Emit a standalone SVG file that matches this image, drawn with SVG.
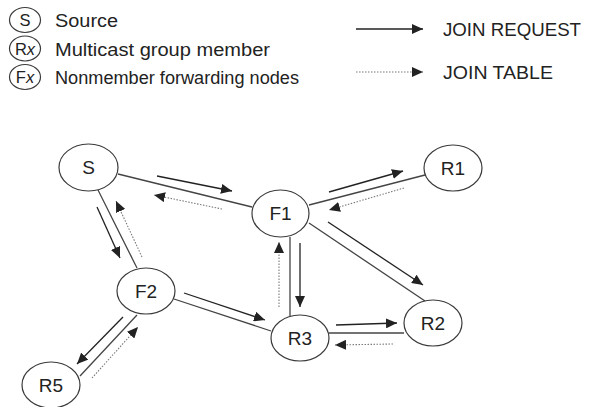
<svg xmlns="http://www.w3.org/2000/svg" width="591" height="407" viewBox="0 0 591 407">
<style>
.bg{fill:#fff}
.node ellipse{fill:#fff;stroke:#3a3a3a;stroke-width:1.2}
.lbl{font-family:"Liberation Sans",Arial,sans-serif;font-size:19px;fill:#222;text-anchor:middle}
.sym{font-family:"Liberation Sans",Arial,sans-serif;font-size:16.5px;fill:#222;text-anchor:middle}
.leg{font-family:"Liberation Sans",Arial,sans-serif;font-size:17.5px;fill:#222}
.edge{stroke:#444;stroke-width:1.3;fill:none}
.req{stroke:#222;stroke-width:1.3;fill:none;marker-end:url(#ah)}
.tbl{stroke:#7a7a7a;stroke-width:1.1;stroke-dasharray:1.5 1.5;fill:none;marker-end:url(#ah)}
</style>
<defs>
<marker id="ah" markerUnits="userSpaceOnUse" markerWidth="12" markerHeight="10" refX="11" refY="5" orient="auto">
<path d="M0,0 L11,5 L0,10 z" fill="#222"/>
</marker>
</defs>
<rect class="bg" x="0" y="0" width="591" height="407"/>

<g id="legend">
<g id="legend-source" class="node">
<ellipse cx="25" cy="20" rx="15.5" ry="12.5"/>
<text class="sym" x="25" y="26">S</text>
<text class="leg" x="55" y="27" textLength="63" lengthAdjust="spacingAndGlyphs">Source</text>
</g>
<g id="legend-member" class="node">
<ellipse cx="25" cy="48.5" rx="15.5" ry="12.5"/>
<text class="sym" x="25" y="54.5">R<tspan font-style="italic">x</tspan></text>
<text class="leg" x="55" y="55.5" textLength="215" lengthAdjust="spacingAndGlyphs">Multicast group member</text>
</g>
<g id="legend-forwarder" class="node">
<ellipse cx="25" cy="77" rx="15.5" ry="12.5"/>
<text class="sym" x="25" y="83">F<tspan font-style="italic">x</tspan></text>
<text class="leg" x="55" y="84" textLength="244" lengthAdjust="spacingAndGlyphs">Nonmember forwarding nodes</text>
</g>
<g id="legend-join-request">
<line class="req" x1="356" y1="29" x2="423" y2="29"/>
<text class="leg" x="443" y="35.5" textLength="138" lengthAdjust="spacingAndGlyphs">JOIN REQUEST</text>
</g>
<g id="legend-join-table">
<line class="tbl" x1="356" y1="72" x2="423" y2="72"/>
<text class="leg" x="443" y="78.5" textLength="110" lengthAdjust="spacingAndGlyphs">JOIN TABLE</text>
</g>
</g>

<g id="connectors">
<line class="edge" x1="118" y1="174" x2="252" y2="207"/>
<line class="edge" x1="98" y1="190" x2="137" y2="268"/>
<line class="edge" x1="309" y1="205" x2="425" y2="175"/>
<line class="edge" x1="309" y1="223" x2="425" y2="301"/>
<line class="edge" x1="290" y1="237" x2="290" y2="316"/>
<line class="edge" x1="174" y1="299" x2="271" y2="331"/>
<line class="edge" x1="329" y1="333" x2="404" y2="333"/>
<line class="edge" x1="137" y1="315" x2="80" y2="376"/>

<line class="req" x1="157" y1="176" x2="232" y2="191"/>
<line class="tbl" x1="222" y1="209" x2="154" y2="195"/>
<line class="req" x1="97" y1="207" x2="120" y2="258"/>
<line class="tbl" x1="142" y1="257" x2="116" y2="201"/>
<line class="req" x1="329" y1="192" x2="403" y2="171"/>
<line class="tbl" x1="404" y1="188" x2="329" y2="210"/>
<line class="req" x1="328" y1="222" x2="423" y2="285"/>
<line class="req" x1="300" y1="243" x2="300" y2="307"/>
<line class="tbl" x1="279" y1="307" x2="279" y2="242"/>
<line class="req" x1="184" y1="293" x2="265" y2="320"/>
<line class="req" x1="336" y1="325" x2="397" y2="323"/>
<line class="tbl" x1="393" y1="344" x2="335" y2="345"/>
<line class="req" x1="123" y1="317" x2="77" y2="364"/>
<line class="tbl" x1="92" y1="378" x2="138" y2="327"/>
</g>

<g id="node-S" class="node"><ellipse cx="88.5" cy="167.5" rx="29.5" ry="23.5"/><text class="lbl" x="88.5" y="174">S</text></g>
<g id="node-F1" class="node"><ellipse cx="280.5" cy="213.5" rx="28.5" ry="23.5"/><text class="lbl" x="280.5" y="220">F1</text></g>
<g id="node-R1" class="node"><ellipse cx="453" cy="168" rx="29" ry="23"/><text class="lbl" x="453" y="175">R1</text></g>
<g id="node-F2" class="node"><ellipse cx="146" cy="291" rx="29" ry="23"/><text class="lbl" x="146" y="298">F2</text></g>
<g id="node-R3" class="node"><ellipse cx="300" cy="338" rx="29" ry="23"/><text class="lbl" x="300" y="345">R3</text></g>
<g id="node-R2" class="node"><ellipse cx="433" cy="323" rx="29" ry="23"/><text class="lbl" x="433" y="330">R2</text></g>
<g id="node-R5" class="node"><ellipse cx="51" cy="385" rx="29" ry="23"/><text class="lbl" x="51" y="392">R5</text></g>
</svg>
